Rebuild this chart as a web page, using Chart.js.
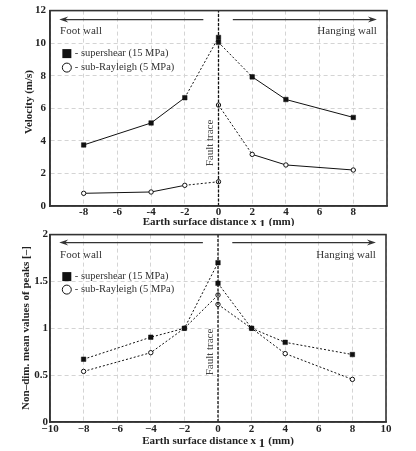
<!DOCTYPE html>
<html>
<head>
<meta charset="utf-8">
<script src="https://cdn.jsdelivr.net/npm/chart.js@4.4.1/dist/chart.umd.min.js"></script>
<style>
    html, body { margin: 0; padding: 0; background: #fff; }
    #wrap { position: relative; width: 416px; height: 451px; overflow: hidden; }
    canvas { position: absolute; left: 0; }
    #velocityChart { top: 0; }
    #peaksChart { top: 226px; }
</style>
</head>
<body>
<div id="wrap">
    <canvas id="velocityChart" width="416" height="226"></canvas>
    <canvas id="peaksChart" width="416" height="225"></canvas>
</div>
<script>
// positions along the surface (mm); two readings sit on the fault trace
const distances = [-8, -4, -2, 0, 0, 2, 4, 8];

// top panel: peak velocity (m/s)
const velSupershear = [3.75, 5.1, 6.65, 10.35, 10.05, 7.93, 6.54, 5.44];
const velSubRayleigh = [0.78, 0.86, 1.27, 1.49, 6.2, 3.17, 2.52, 2.21];

// bottom panel: non-dimensional mean values of peaks
const peakSupershear = [0.67, 0.905, 1.0, 1.70, 1.48, 1.0, 0.85, 0.72];
const peakSubRayleigh = [0.54, 0.74, 1.0, 1.355, 1.255, 1.0, 0.73, 0.455];

const seriesLabels = ['- supershear (15 MPa)', '- sub-Rayleigh (5 MPa)'];
const sideLabels = ['Foot wall', 'Hanging wall'];
const faultLabel = 'Fault trace';
const xTitle = ['Earth surface distance x', '1', '(mm)'];
const velTitle = 'Velocity (m/s)';
const peakTitle = 'Non\u2013dim. mean values of peaks [\u2013]';

const SERIF = "'Liberation Serif', 'DejaVu Serif', serif";
Chart.defaults.font.family = SERIF;
Chart.defaults.color = '#222';

function toPoints(values) {
    return distances.map((x, i) => ({ x: x, y: values[i] }));
}

// segment style: 'solid', 'dot' or 'none' per segment index
function segmentStyle(pattern) {
    return {
        borderDash: ctx => pattern[ctx.p0DataIndex] === 'dot' ? [2, 2] : [],
        borderColor: ctx => pattern[ctx.p0DataIndex] === 'none' ? 'rgba(0,0,0,0)' : '#111'
    };
}

const overlayPlugin = {
    id: 'overlay',
    afterDraw(chart, args, opts) {
        const ctx = chart.ctx;
        const a = chart.chartArea;
        const xs = chart.scales.x;
        ctx.save();

        // frame
        ctx.strokeStyle = '#333';
        ctx.lineWidth = 1.6;
        ctx.strokeRect(a.left, a.top, a.right - a.left, a.bottom - a.top);

        // arrows
        const ay = a.top + opts.arrowY;
        ctx.strokeStyle = '#333';
        ctx.fillStyle = '#333';
        ctx.lineWidth = 1.3;
        const drawArrow = (x0, x1) => {
            const p0 = xs.getPixelForValue(x0), p1 = xs.getPixelForValue(x1);
            const dir = Math.sign(p1 - p0);
            ctx.beginPath();
            ctx.moveTo(p0, ay);
            ctx.lineTo(p1 - dir * 4, ay);
            ctx.stroke();
            ctx.beginPath();
            ctx.moveTo(p1, ay);
            ctx.lineTo(p1 - dir * 9, ay - 3);
            ctx.lineTo(p1 - dir * 6, ay);
            ctx.lineTo(p1 - dir * 9, ay + 3);
            ctx.closePath();
            ctx.fill();
        };
        drawArrow(-0.9, -9.45);
        drawArrow(0.85, 9.4);

        // side labels
        ctx.font = '11px ' + SERIF;
        ctx.fillStyle = '#333';
        ctx.textBaseline = 'middle';
        ctx.textAlign = 'left';
        ctx.fillText(sideLabels[0], xs.getPixelForValue(-9.4), a.top + opts.sideY);
        ctx.textAlign = 'right';
        ctx.fillText(sideLabels[1], xs.getPixelForValue(9.4), a.top + opts.sideY);

        // legend
        const lx = xs.getPixelForValue(-9.0);
        ctx.fillStyle = '#111';
        ctx.fillRect(lx - 4.5, a.top + opts.legendY[0] - 4.5, 9, 9);
        ctx.beginPath();
        ctx.arc(lx, a.top + opts.legendY[1], 4.5, 0, Math.PI * 2);
        ctx.fillStyle = '#fff';
        ctx.fill();
        ctx.strokeStyle = '#111';
        ctx.lineWidth = 1;
        ctx.stroke();
        ctx.fillStyle = '#333';
        ctx.textAlign = 'left';
        ctx.font = '10.5px ' + SERIF;
        ctx.fillText(seriesLabels[0], lx + 8, a.top + opts.legendY[0]);
        ctx.fillText(seriesLabels[1], lx + 8, a.top + opts.legendY[1]);

        // fault trace label
        ctx.save();
        ctx.translate(xs.getPixelForValue(0) - 8, opts.faultY);
        ctx.rotate(-Math.PI / 2);
        ctx.textAlign = 'center';
        ctx.font = '11px ' + SERIF;
        ctx.fillStyle = '#444';
        ctx.fillText(faultLabel, 0, 0);
        ctx.restore();

        // y title
        ctx.save();
        ctx.translate(opts.yTitleX, opts.yTitleY);
        ctx.rotate(-Math.PI / 2);
        ctx.textAlign = 'center';
        ctx.font = 'bold 11px ' + SERIF;
        ctx.fillStyle = '#222';
        ctx.fillText(opts.yTitle, 0, 0);
        ctx.restore();

        // x title with lowered subscript
        ctx.font = 'bold 11px ' + SERIF;
        ctx.fillStyle = '#222';
        ctx.textAlign = 'left';
        const w0 = ctx.measureText(xTitle[0] + ' ').width;
        ctx.font = 'bold 12.5px ' + SERIF;
        const w1 = ctx.measureText(xTitle[1] + ' ').width;
        ctx.font = 'bold 11px ' + SERIF;
        const w2 = ctx.measureText(xTitle[2]).width;
        let tx = (a.left + a.right) / 2 - (w0 + w1 + w2) / 2;
        const ty = opts.xTitleY;
        ctx.fillText(xTitle[0] + ' ', tx, ty);
        ctx.font = 'bold 12.5px ' + SERIF;
        ctx.fillText(xTitle[1], tx + w0, ty + 3);
        ctx.font = 'bold 11px ' + SERIF;
        ctx.fillText(xTitle[2], tx + w0 + w1, ty);

        ctx.restore();
    }
};

function makeChart(canvasId, seriesA, seriesB, patternA, patternB, yMax, yStep, panel) {
    const canvas = document.getElementById(canvasId);
    const gridStyle = { color: '#d4d4d4', lineWidth: 1, drawTicks: false };
    const borderStyle = { display: true, color: '#333', width: 1.6, dash: [4, 3] };

    return new Chart(canvas.getContext('2d'), {
        type: 'scatter',
        data: {
            datasets: [
                {
                    label: faultLabel,
                    data: [{ x: 0, y: 0 }, { x: 0, y: yMax }],
                    showLine: true,
                    borderColor: '#111',
                    borderWidth: 1.3,
                    borderDash: [3, 1.5],
                    pointRadius: 0
                },
                {
                    label: seriesLabels[0],
                    data: toPoints(seriesA),
                    showLine: true,
                    borderColor: '#111',
                    borderWidth: 1,
                    segment: segmentStyle(patternA),
                    pointStyle: 'rect',
                    pointRadius: 3.2,
                    pointBackgroundColor: '#111',
                    pointBorderColor: '#111',
                    pointBorderWidth: 0.5
                },
                {
                    label: seriesLabels[1],
                    data: toPoints(seriesB),
                    showLine: true,
                    borderColor: '#111',
                    borderWidth: 1,
                    segment: segmentStyle(patternB),
                    pointStyle: 'circle',
                    pointRadius: 2.2,
                    pointBackgroundColor: '#fff',
                    pointBorderColor: '#111',
                    pointBorderWidth: 1
                }
            ]
        },
        options: {
            responsive: false,
            animation: false,
            layout: { padding: { top: panel.top, right: panel.right, left: 0, bottom: 0 } },
            plugins: {
                legend: { display: false },
                tooltip: { enabled: false },
                overlay: panel.overlay
            },
            scales: {
                x: {
                    type: 'linear',
                    min: -10,
                    max: 10,
                    grid: gridStyle,
                    border: borderStyle,
                    afterFit: scale => { scale.height = panel.xHeight; },
                    ticks: {
                        stepSize: 2,
                        padding: panel.xPad,
                        font: { size: 11, weight: 'bold' },
                        color: '#222',
                        callback: panel.xTick
                    }
                },
                y: {
                    min: 0,
                    max: yMax,
                    grid: gridStyle,
                    border: borderStyle,
                    afterFit: scale => { scale.width = 50; },
                    ticks: {
                        stepSize: yStep,
                        padding: panel.yPad,
                        font: { size: 11, weight: 'bold' },
                        color: '#222',
                        callback: v => String(v)
                    }
                }
            }
        },
        plugins: [overlayPlugin]
    });
}

const topPattern = ['solid', 'solid', 'dot', 'none', 'dot', 'solid', 'solid'];
const dotPattern = ['dot', 'dot', 'dot', 'none', 'dot', 'dot', 'dot'];

makeChart('velocityChart', velSupershear, velSubRayleigh, topPattern, topPattern, 12, 2, {
    top: 10,
    right: 29,
    xHeight: 20,
    xPad: 0,
    yPad: 4,
    xTick: v => (Math.abs(v) === 10 ? '' : String(v)),
    overlay: {
        arrowY: 9, sideY: 21, legendY: [43, 57],
        faultY: 143, yTitle: velTitle, yTitleX: 29, yTitleY: 102, xTitleY: 222
    }
});

makeChart('peaksChart', peakSupershear, peakSubRayleigh, dotPattern, dotPattern, 2, 0.5, {
    top: 6,
    right: 30,
    xHeight: 29,
    xPad: 1,
    yPad: 2,
    xTick: v => (v < 0 ? '\u2212' + Math.abs(v) : String(v)),
    overlay: {
        arrowY: 8, sideY: 21, legendY: [42, 55],
        faultY: 126, yTitle: peakTitle, yTitleX: 26, yTitleY: 102, xTitleY: 215
    }
});
</script>
</body>
</html>
